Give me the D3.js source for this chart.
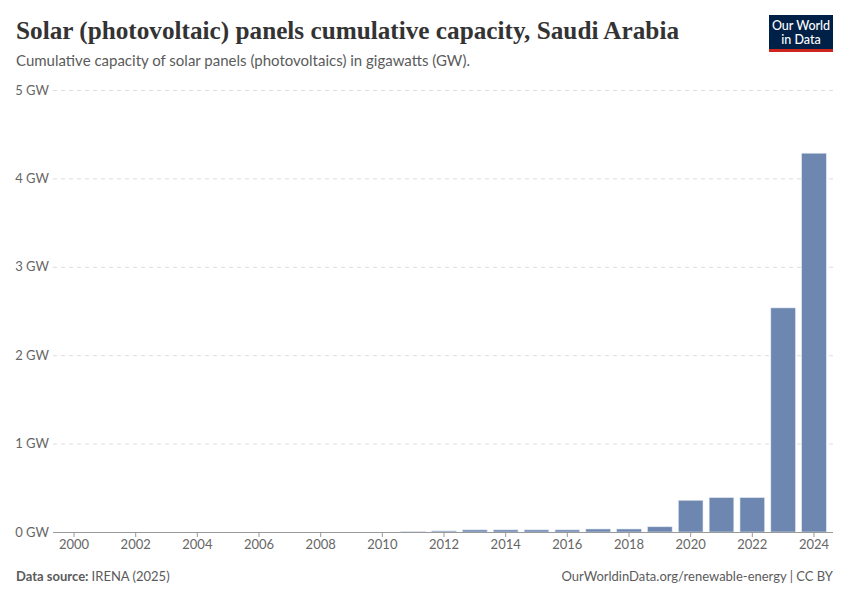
<!DOCTYPE html>
<html><head><meta charset="utf-8">
<script src="https://cdn.jsdelivr.net/npm/d3@7"></script>
<style>body{margin:0;background:#fff}svg{display:block}</style>
</head><body>
<svg id="c" width="850" height="600"></svg>
<script>
const years = [2000,2001,2002,2003,2004,2005,2006,2007,2008,2009,2010,2011,2012,2013,2014,2015,2016,2017,2018,2019,2020,2021,2022,2023,2024];
const capacityGW = [0,0,0,0,0,0,0,0,0,0,0,0.005,0.012,0.024,0.024,0.024,0.024,0.034,0.034,0.059,0.359,0.389,0.389,2.535,4.285];
const yTicks = [0,1,2,3,4,5];
const xTickYears = [2000,2002,2004,2006,2008,2010,2012,2014,2016,2018,2020,2022,2024];

const svg = d3.select("#c");
const font = "Lato, 'Noto Sans', sans-serif";
const y = d3.scaleLinear().domain([0,5]).range([532,90]);
const x = d3.scaleBand().domain(years).range([58.6,829.4]).paddingInner(0.2).paddingOuter(0.1);

// title
svg.append("text").attr("x",16).attr("y",39).attr("font-family","'Liberation Serif','DejaVu Serif',serif")
  .attr("font-size",26).attr("font-weight",700).attr("fill","#333")
  .attr("textLength",663).attr("lengthAdjust","spacingAndGlyphs")
  .text("Solar (photovoltaic) panels cumulative capacity, Saudi Arabia");
svg.append("text").attr("x",16).attr("y",66).attr("font-family",font).attr("font-size",15).attr("fill","#5b5b5b")
  .text("Cumulative capacity of solar panels (photovoltaics) in gigawatts (GW).");

// logo
const logo = svg.append("g");
logo.append("rect").attr("x",769).attr("y",15).attr("width",64).attr("height",37).attr("fill","#002147");
logo.append("rect").attr("x",769).attr("y",49).attr("width",64).attr("height",3).attr("fill","#ce261e");
logo.append("text").attr("x",801).attr("y",30).attr("text-anchor","middle").attr("font-family",font).attr("font-size",12.5).attr("font-weight",500).attr("fill","#fff").text("Our World");
logo.append("text").attr("x",801).attr("y",44).attr("text-anchor","middle").attr("font-family",font).attr("font-size",12.5).attr("font-weight",500).attr("fill","#fff").text("in Data");

// y grid + labels
const yAxis = svg.append("g").attr("transform","translate(833,0)")
  .call(d3.axisLeft(y).tickValues(yTicks).tickSize(780).tickFormat(d => d + " GW"));
yAxis.select(".domain").remove();
yAxis.selectAll(".tick line").attr("stroke","#dddddd").attr("stroke-dasharray","4,4")
  .filter(d => d===0).remove();
yAxis.selectAll(".tick text").attr("x",-784).attr("font-family",font).attr("font-size",13).attr("fill","#666").attr("text-anchor","end");

// bars
svg.append("g").selectAll("rect").data(years.map((yr,i)=>({yr, v:capacityGW[i]})).filter(d => d.v > 0)).join("rect")
  .attr("x", d => x(d.yr)).attr("width", x.bandwidth())
  .attr("y", d => y(d.v)).attr("height", d => y(0)-y(d.v))
  .attr("fill","#6d87b0").attr("stroke","#dfe6f0").attr("stroke-width",0.6);

// x axis
const xAxis = svg.append("g").attr("transform","translate(0,532)")
  .call(d3.axisBottom(x).tickValues(xTickYears).tickSize(5).tickPadding(3).tickSizeOuter(0));
xAxis.select(".domain").attr("d","M53,0.5H833").attr("stroke","#999");
xAxis.selectAll(".tick line").attr("stroke","#999");
xAxis.selectAll(".tick text").attr("font-family",font).attr("font-size",13).attr("fill","#666");

// footer
const f = svg.append("text").attr("x",16).attr("y",581).attr("font-family",font).attr("font-size",13).attr("fill","#5b5b5b");
f.append("tspan").attr("font-weight",700).text("Data source: ");
f.append("tspan").text("IRENA (2025)");
svg.append("text").attr("x",833).attr("y",581).attr("text-anchor","end").attr("font-family",font).attr("font-size",13).attr("fill","#5b5b5b")
  .text("OurWorldinData.org/renewable-energy | CC BY");
</script>
</body></html>
